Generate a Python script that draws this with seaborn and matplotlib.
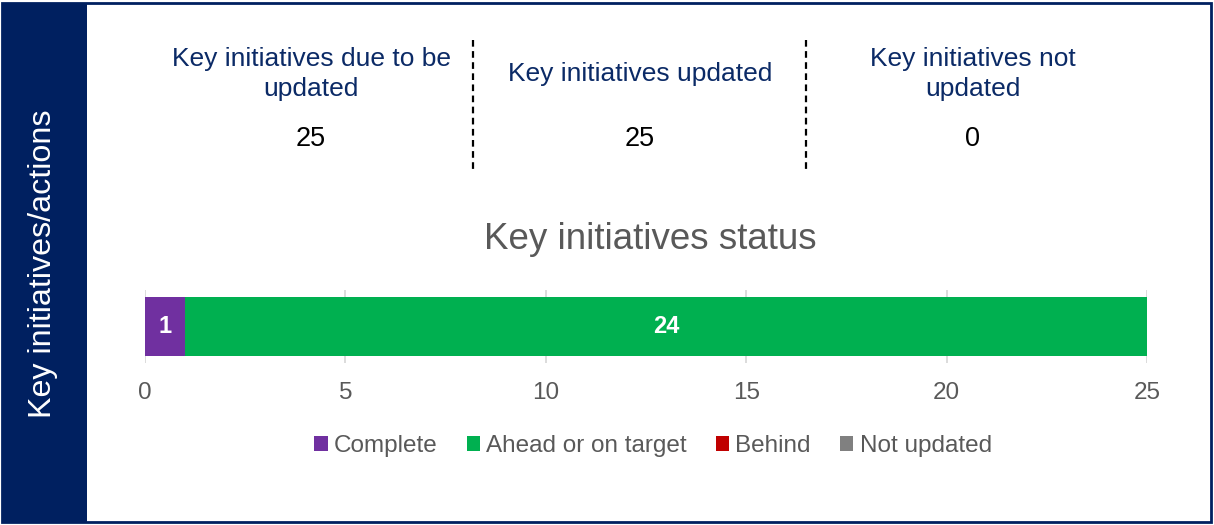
import matplotlib
matplotlib.use("Agg")
import matplotlib.pyplot as plt
import seaborn as sns
from matplotlib.patches import Rectangle, Patch
from matplotlib.lines import Line2D

# ---- data ----
summary_labels = ["Key initiatives due to be\nupdated", "Key initiatives updated", "Key initiatives not\nupdated"]
summary_values = [25, 25, 0]
status_categories = ["Complete", "Ahead or on target", "Behind", "Not updated"]
status_values = [1, 24, 0, 0]
status_colors = ["#7030A0", "#00B050", "#C00000", "#808080"]
x_ticks = [0, 5, 10, 15, 20, 25]
side_label = "Key initiatives/actions"
chart_title = "Key initiatives status"

sns.set_theme(style="white")
plt.rcParams["font.family"] = ["Liberation Sans", "DejaVu Sans"]

W, H = 1214, 525
fig = plt.figure(figsize=(W / 100, H / 100), dpi=100)
fig.patch.set_facecolor("white")

def fx(px):
    return px / W

def fy(py):
    return 1 - py / H

navy = "#002060"
# outer border and left panel
fig.patches.append(Rectangle((fx(2), fy(522)), fx(1209), 519 / H, transform=fig.transFigure,
                             facecolor="none", edgecolor=navy, linewidth=2, zorder=0))
fig.patches.append(Rectangle((fx(2), fy(522)), fx(85), 519 / H, transform=fig.transFigure,
                             facecolor=navy, edgecolor=navy, linewidth=0, zorder=0))
fig.text(fx(43), fy(264), side_label, rotation=90, color="white", fontsize=23.2,
         ha="center", va="center")

# summary panel
col_x = [311, 640, 973]
for cx, lab, val in zip(col_x, summary_labels, summary_values):
    fig.text(fx(cx), fy(74), lab, color="#0B2A66", fontsize=19, ha="center", va="center",
             linespacing=1.36)
    fig.text(fx(cx), fy(139), str(val), color="black", fontsize=19.5, ha="center", va="center")
for lx in [473, 806]:
    fig.add_artist(Line2D([fx(lx), fx(lx)], [fy(40), fy(172)], transform=fig.transFigure,
                          color="black", linestyle=(0, (3, 2)), linewidth=1.6))

fig.text(fx(650), fy(240), chart_title, color="#595959", fontsize=26.5, ha="center", va="center")

# bar chart
ax = fig.add_axes([fx(145), fy(363), fx(1147 - 145), 73 / H])
cum = []
s = 0
for v in status_values:
    s += v
    cum.append(s)
for cat, c, col in reversed(list(zip(status_categories, cum, status_colors))):
    sns.barplot(x=[c], y=["Status"], orient="h", color=col, width=0.795,
                saturation=1, ax=ax, zorder=3, linewidth=0)
left = 0
for v in status_values:
    if v > 0:
        ax.text(left + v / 2, 0, str(v), color="white", fontsize=17, fontweight="bold",
                ha="center", va="center", zorder=5)
    left += v

ax.set_xlim(0, 25)
ax.set_ylim(0.5, -0.5)
ax.set_xticks(x_ticks)
ax.set_xticklabels([str(t) for t in x_ticks], color="#595959", fontsize=17.5)
ax.set_yticks([])
ax.set_xlabel("")
ax.set_ylabel("")
ax.tick_params(axis="x", length=0, pad=14)
ax.grid(axis="x", color="#D9D9D9", linewidth=1.3, zorder=0)
ax.set_axisbelow(True)
for sp in ax.spines.values():
    sp.set_visible(False)
ax.set_facecolor("none")

handles = [Patch(facecolor=c, edgecolor="none") for c in status_colors]
fig.legend(handles, status_categories, loc="center", bbox_to_anchor=(fx(653), fy(446)),
           ncol=4, frameon=False, fontsize=17.5, labelcolor="#595959",
           handlelength=0.55, handleheight=0.55, handletextpad=0.25, columnspacing=1.2,
           borderpad=0, borderaxespad=0)

fig.savefig("out.png", dpi=100, facecolor="white")
